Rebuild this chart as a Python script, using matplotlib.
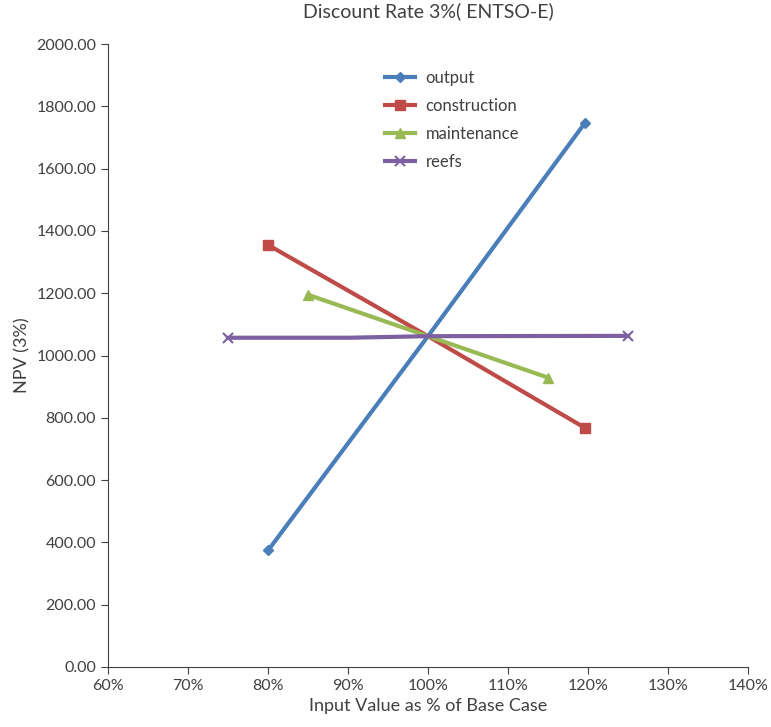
import matplotlib
matplotlib.use("Agg")
import matplotlib.pyplot as plt
from matplotlib.ticker import FuncFormatter

plt.rcParams['font.family'] = ['Lato', 'DejaVu Sans']

output_x = [80, 100, 119.6]
output_y = [374, 1062, 1746]
construction_x = [80, 100, 119.6]
construction_y = [1355, 1062, 768]
maintenance_x = [85, 100, 115]
maintenance_y = [1195, 1062, 929]
reefs_x = [75, 90, 100, 125]
reefs_y = [1057, 1057, 1062, 1063]

fig = plt.figure(figsize=(7.71, 7.27), dpi=100)
ax = fig.add_axes([108/771, 1 - 667/727, 640/771, 623/727])

lw = 3
ax.plot(output_x, output_y, color='#4a7ebb', lw=lw, marker='D', ms=5.5, markevery=[0, 2], label='output')
ax.plot(construction_x, construction_y, color='#be4b48', lw=lw, marker='s', ms=7, markevery=[0, 2], label='construction')
ax.plot(maintenance_x, maintenance_y, color='#98b954', lw=lw, marker='^', ms=7.5, markevery=[0, 2], label='maintenance')
ax.plot(reefs_x, reefs_y, color='#7d60a0', lw=lw, marker='x', ms=6.5, mew=1.5, markevery=[0, 3], label='reefs')

ax.set_xlim(60, 140)
ax.set_ylim(0, 2000)
ax.set_xticks(range(60, 141, 10))
ax.set_yticks(range(0, 2001, 200))
ax.xaxis.set_major_formatter(FuncFormatter(lambda v, p: f"{int(v)}%"))
ax.yaxis.set_major_formatter(FuncFormatter(lambda v, p: f"{v:.2f}"))
for s in ['top', 'right']:
    ax.spines[s].set_visible(False)
for s in ['left', 'bottom']:
    ax.spines[s].set_color('#404040')
ax.tick_params(axis='both', direction='out', length=5, color='#404040', labelsize=11.5, labelcolor='#404040')

ax.set_xlabel('Input Value as % of Base Case', fontsize=13, color='#404040')
ax.set_ylabel('NPV (3%)', fontsize=13, color='#404040')
ax.set_title('Discount Rate 3%( ENTSO-E)', fontsize=14, color='#404040', pad=19)

leg = ax.legend(loc='upper left', bbox_to_anchor=(0.41, 0.983), frameon=False, fontsize=12,
                handlelength=1.8, handletextpad=0.6, labelspacing=0.72)
for t in leg.get_texts():
    t.set_color('#404040')

fig.savefig('out.png', dpi=100)
